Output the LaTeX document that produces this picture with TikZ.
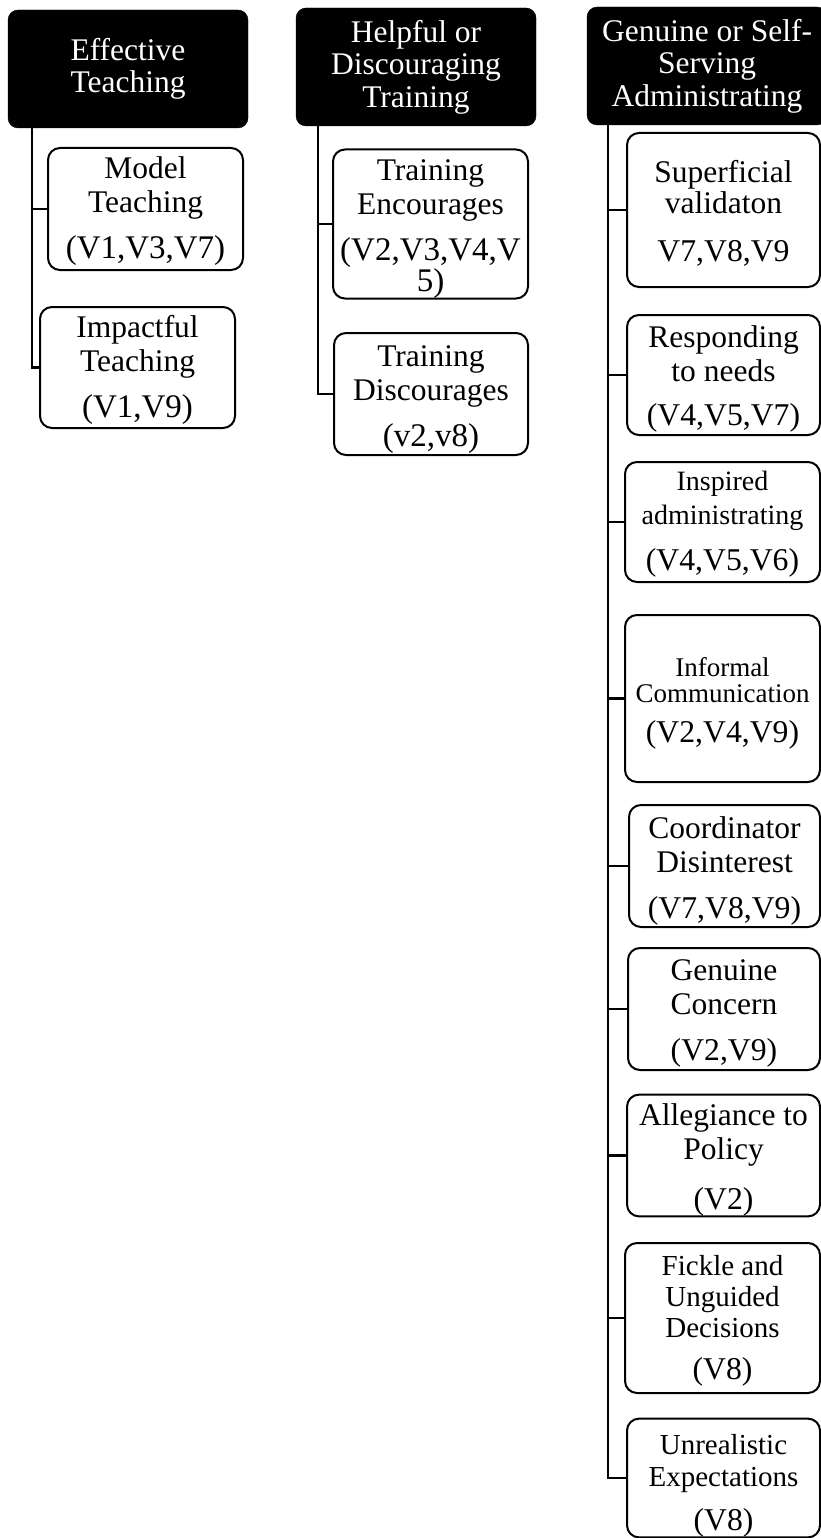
\documentclass[tikz,border=0pt]{standalone}
\usepackage{fontspec}
\setmainfont{Liberation Serif}
\tikzset{
	theme/.style={draw=black, fill=black, text=white, rounded corners=10pt, inner sep=0pt, minimum width=240pt, minimum height=118pt, anchor=center, align=center, font=\fontsize{31.5}{32.5}\selectfont},
	subtheme/.style 2 args={draw=black, line width=2pt, fill=white, rounded corners=12pt, inner sep=0pt, minimum width=#1pt, minimum height=#2pt, anchor=center, align=center, font=\fontsize{31.5}{34}\selectfont},
	link/.style={line width=2.6pt}
}
\newcommand{\smalltitle}{\fontsize{28}{30}\selectfont}
\newcommand{\tinytitle}{\fontsize{27}{28}\selectfont}
\newcommand{\midtitle}{\fontsize{29}{31}\selectfont}
\newcommand{\vals}{\fontsize{33}{34}\selectfont}
\newcommand{\valsc}{\fontsize{31.7}{34}\selectfont}
\newcommand{\lift}[1]{\rule{0pt}{#1pt}}
\begin{document}
\begin{tikzpicture}[x=1pt, y=-1pt]
	\useasboundingbox (0,0) rectangle (821,1538);

	%effective teaching
	\node[theme] (et) at (128,69) {Effective\\Teaching};
	\node[subtheme={195}{122}] (mt) at (145.5,209) {\lift{26}Model\\Teaching\\[12pt]\vals (V1,V3,V7)};
	\node[subtheme={195}{121}] (it) at (137.5,367.5) {\lift{28}Impactful\\Teaching\\[12pt]\vals (V1,V9)};
	\coordinate (et-root) at ([xshift=24pt]et.south west);
	\draw[link] (et-root) |- (mt.west);
	\draw[link] (et-root) |- (it.west);

	%helpful or discouraging training
	\node[theme] (ht) at (416,67) {Helpful or\\Discouraging\\Training};
	\node[subtheme={195}{148}] (te) at (430.5,224) {\lift{31}Training\\Encourages\\[12pt]\vals (V2,V3,V4,V\\[-3pt]\vals 5)};
	\node[subtheme={194}{122}] (td) at (431,394) {\lift{32}Training\\Discourages\\[12pt]\vals (v2,v8)};
	\coordinate (ht-root) at ([xshift=22pt]ht.south west);
	\draw[link] (ht-root) |- (te.west);
	\draw[link] (ht-root) |- (td.west);

	%genuine or self-serving administrating
	\node[theme] (ga) at (707,66) {Genuine or Self-\\Serving\\Administrating};
	\node[subtheme={193}{154}] (sv) at (723.5,210) {\lift{29}Superficial\\[-3pt]validaton\\[14pt]\valsc V7,V8,V9};
	\node[subtheme={193}{120}] (rn) at (723.5,375) {\lift{30}Responding\\to needs\\[10pt]\valsc (V4,V5,V7)};
	\node[subtheme={195}{120}] (ia) at (722.5,522) {\smalltitle\lift{23}Inspired\\\smalltitle administrating\\[12pt]\valsc (V4,V5,V6)};
	\node[subtheme={195}{167}] (ic) at (722.5,698.5) {\tinytitle\lift{28}Informal\\[-8pt]\tinytitle Communication\\[6pt]\valsc (V2,V4,V9)};
	\node[subtheme={191}{122}] (cd) at (724.5,866) {\lift{32}Coordinator\\Disinterest\\[12pt]\valsc (V7,V8,V9)};
	\node[subtheme={192}{122}] (gc) at (724,1009) {\lift{30}Genuine\\Concern\\[12pt]\valsc (V2,V9)};
	\node[subtheme={193}{121}] (ap) at (723.5,1155.5) {\lift{31}Allegiance to\\Policy\\[16pt]\valsc (V2)};
	\node[subtheme={195}{150}] (fd) at (722.5,1318) {\midtitle\lift{26}Fickle and\\[-3pt]\midtitle Unguided\\[-3pt]\midtitle Decisions\\[8pt]\valsc (V8)};
	\node[subtheme={193}{116}] (ue) at (723.5,1478) {\midtitle\lift{36}Unrealistic\\[-2pt]\midtitle Expectations\\[10pt]\valsc (V8)};
	\coordinate (ga-root) at ([xshift=21pt]ga.south west);
	\foreach \code in {sv,rn,ia,ic,cd,gc,ap,fd,ue}
		\draw[link] (ga-root) |- (\code.west);
\end{tikzpicture}
\end{document}
